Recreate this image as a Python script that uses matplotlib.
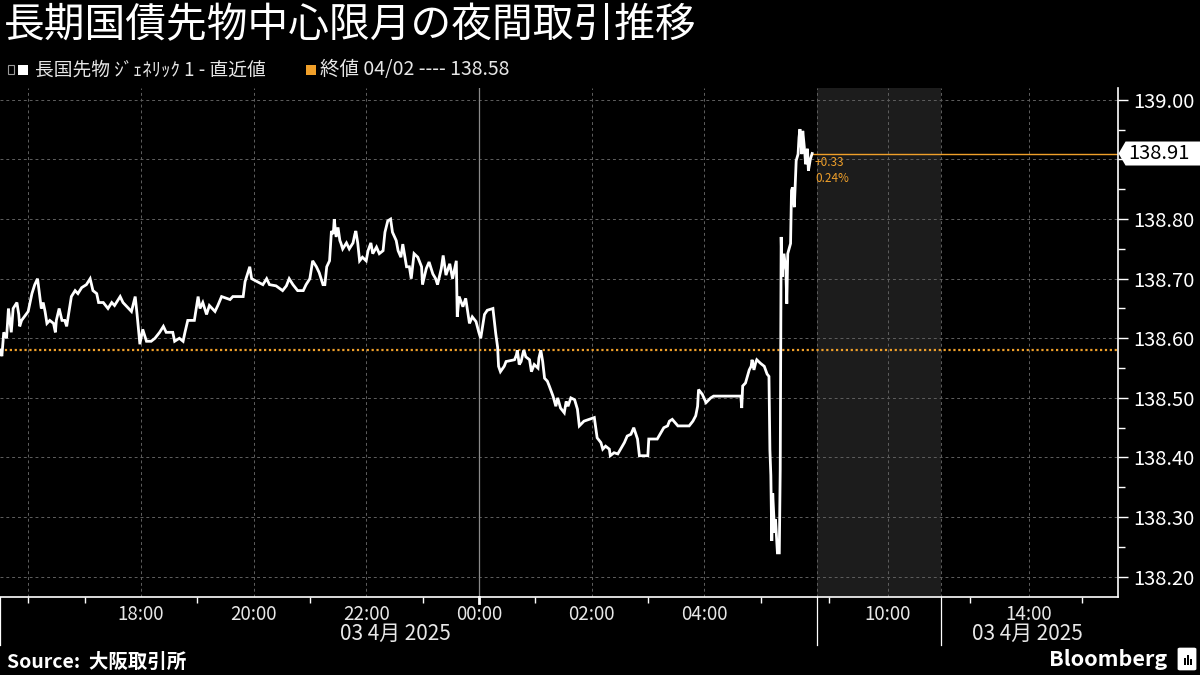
import matplotlib
matplotlib.use("Agg")
import matplotlib.pyplot as plt
import matplotlib.transforms as mtransforms
from matplotlib.patches import Rectangle, Polygon, FancyBboxPatch

plt.rcParams['font.family'] = ['Noto Sans CJK JP', 'DejaVu Sans']

# night session ticks (Osaka JGB futures, generic 1st), JST
times = [
    "15:30", "15:32", "15:34", "15:37", "15:39", "15:42", "15:44", "15:48", "15:50", "15:51",
    "15:53", "16:00", "16:02", "16:04", "16:07", "16:10", "16:12", "16:14", "16:16", "16:18",
    "16:20", "16:23", "16:27", "16:29", "16:30", "16:33", "16:36", "16:39", "16:41", "16:43",
    "16:46", "16:50", "16:53", "16:57", "17:02", "17:06", "17:09", "17:13", "17:15", "17:20",
    "17:25", "17:29", "17:32", "17:38", "17:41", "17:47", "17:50", "17:54", "17:56", "17:59",
    "18:02", "18:06", "18:11", "18:15", "18:20", "18:24", "18:27", "18:34", "18:36", "18:41",
    "18:45", "18:47", "18:50", "18:57", "19:01", "19:03", "19:06", "19:10", "19:13", "19:19",
    "19:22", "19:26", "19:35", "19:38", "19:49", "19:51", "19:54", "19:56", "19:58", "20:10",
    "20:14", "20:17", "20:24", "20:31", "20:35", "20:38", "20:42", "20:47", "20:53", "20:56",
    "21:00", "21:03", "21:07", "21:10", "21:14", "21:16", "21:18", "21:21", "21:23", "21:25",
    "21:26", "21:28", "21:30", "21:32", "21:33", "21:35", "21:39", "21:42", "21:46", "21:48",
    "21:49", "21:51", "21:53", "21:56", "22:00", "22:02", "22:05", "22:07", "22:11", "22:14",
    "22:18", "22:20", "22:23", "22:26", "22:28", "22:32", "22:34", "22:37", "22:39", "22:43",
    "22:46", "22:48", "22:51", "22:55", "22:59", "23:00", "23:04", "23:07", "23:11", "23:14",
    "23:16", "23:20", "23:22", "23:25", "23:29", "23:32", "23:36", "23:37", "23:39", "23:43",
    "23:46", "23:50", "23:53", "23:57", "00:00", "00:02", "00:06", "00:09", "00:15", "00:18",
    "00:20", "00:21", "00:23", "00:27", "00:29", "00:38", "00:40", "00:41", "00:43", "00:45",
    "00:47", "00:48", "00:50", "00:54", "00:56", "00:59", "01:03", "01:04", "01:06", "01:08",
    "01:10", "01:13", "01:15", "01:19", "01:22", "01:24", "01:27", "01:31", "01:33", "01:35",
    "01:38", "01:42", "01:45", "01:47", "01:52", "02:03", "02:05", "02:06", "02:10", "02:12",
    "02:15", "02:19", "02:20", "02:24", "02:28", "02:31", "02:35", "02:38", "02:42", "02:45",
    "02:49", "02:51", "03:00", "03:01", "03:10", "03:14", "03:17", "03:21", "03:23", "03:26",
    "03:32", "03:44", "03:48", "03:51", "03:53", "03:54", "03:58", "04:02", "04:07", "04:10",
    "04:39", "04:40", "04:41", "04:44", "04:48", "04:50", "04:51", "04:53", "04:55", "04:56",
    "05:00", "05:04", "05:07", "05:09", "05:10", "05:11", "05:12", "05:13", "05:15", "05:16",
    "05:18", "05:20", "05:21", "05:22", "05:23", "05:25", "05:27", "05:28", "05:29", "05:32",
    "05:33", "05:34", "05:36", "05:38", "05:40", "05:41", "05:42", "05:44", "05:45", "05:47",
    "05:48", "05:50", "05:51", "05:53", "05:55",
]
prices = [
    138.58, 138.57, 138.61, 138.60, 138.65, 138.61, 138.65, 138.66, 138.64, 138.62,
    138.63, 138.645, 138.66, 138.675, 138.69, 138.70, 138.675, 138.65, 138.66, 138.645,
    138.625, 138.63, 138.625, 138.61, 138.63, 138.65, 138.63, 138.63, 138.62, 138.64,
    138.67, 138.68, 138.675, 138.685, 138.69, 138.70, 138.68, 138.675, 138.66, 138.66,
    138.65, 138.66, 138.655, 138.67, 138.66, 138.65, 138.645, 138.67, 138.64, 138.59,
    138.615, 138.595, 138.595, 138.60, 138.61, 138.62, 138.61, 138.61, 138.595, 138.60,
    138.595, 138.61, 138.63, 138.63, 138.67, 138.65, 138.66, 138.64, 138.655, 138.645,
    138.655, 138.67, 138.665, 138.67, 138.67, 138.695, 138.71, 138.72, 138.70, 138.69,
    138.70, 138.69, 138.688, 138.68, 138.688, 138.70, 138.69, 138.68, 138.68, 138.69,
    138.70, 138.73, 138.72, 138.71, 138.69, 138.69, 138.72, 138.73, 138.78, 138.775,
    138.80, 138.77, 138.786, 138.764, 138.76, 138.75, 138.76, 138.75, 138.76, 138.775,
    138.78, 138.76, 138.73, 138.736, 138.73, 138.747, 138.76, 138.742, 138.753, 138.742,
    138.747, 138.778, 138.797, 138.80, 138.778, 138.764, 138.747, 138.736, 138.758, 138.72,
    138.72, 138.70, 138.742, 138.736, 138.72, 138.69, 138.717, 138.728, 138.708, 138.70,
    138.69, 138.717, 138.739, 138.706, 138.725, 138.70, 138.73, 138.636, 138.67, 138.653,
    138.667, 138.625, 138.636, 138.628, 138.61, 138.60, 138.64, 138.647, 138.65, 138.608,
    138.585, 138.553, 138.544, 138.553, 138.561, 138.564, 138.572, 138.58, 138.556, 138.561,
    138.575, 138.58, 138.569, 138.564, 138.544, 138.556, 138.55, 138.567, 138.58, 138.561,
    138.533, 138.528, 138.52, 138.503, 138.486, 138.50, 138.483, 138.475, 138.494, 138.486,
    138.50, 138.497, 138.481, 138.453, 138.461, 138.467, 138.444, 138.433, 138.425, 138.414,
    138.419, 138.414, 138.403, 138.408, 138.406, 138.414, 138.425, 138.436, 138.439, 138.45,
    138.431, 138.403, 138.403, 138.431, 138.431, 138.442, 138.45, 138.453, 138.461, 138.464,
    138.453, 138.453, 138.461, 138.47, 138.486, 138.514, 138.506, 138.492, 138.50, 138.503,
    138.503, 138.483, 138.52, 138.525, 138.547, 138.553, 138.564, 138.547, 138.56, 138.564,
    138.558, 138.553, 138.54, 138.536, 138.413, 138.37, 138.26, 138.34, 138.274, 138.296,
    138.24, 138.24, 138.38, 138.77, 138.703, 138.742, 138.714, 138.658, 138.742, 138.759,
    138.848, 138.853, 138.82, 138.898, 138.909, 138.937, 138.951, 138.909, 138.948, 138.915,
    138.892, 138.918, 138.881, 138.90, 138.91,
]

prev_close = 138.58
prev_date = "04/02"
y_ticks = [138.2, 138.3, 138.4, 138.5, 138.6, 138.7, 138.8, 138.9, 139.0]
night_labels = ["18:00", "20:00", "22:00", "00:00", "02:00", "04:00"]
day_labels = ["10:00", "14:00"]
date_label = "03 4月 2025"

ORANGE = "#f0a02a"
GRID = "#5f5f5f"


def night_pos(t):
    hh, mm = map(int, t.split(":"))
    h = hh + mm / 60
    return h - 24 if hh >= 12 else h


# day session is drawn compressed after the 06:00 close
def day_pos(h):
    return 6 + (h - 8) * 0.628


x = [night_pos(t) for t in times]
last_x, last_price = x[-1], prices[-1]
change = last_price - prev_close
pct = change / prev_close * 100

fig = plt.figure(figsize=(12, 6.75), dpi=100, facecolor="black")
ax = fig.add_axes([0, 0.1156, 0.9313, 0.7541])
ax.set_facecolor("black")
x_left, x_right = -8.5, day_pos(16.5)
ax.set_xlim(x_left, x_right)
ax.set_ylim(138.166, 139.020)

# shaded (not yet traded) day session
day_break = day_pos(11.5)
ax.axvspan(6, day_break, color="#1c1c1c", zorder=0, lw=0)

for v in y_ticks:
    ax.axhline(v, color=GRID, lw=0.7, ls=(0, (3, 3)), zorder=1)
for v in [-8, -6, -4, -2, 2, 4, 6, day_pos(10), day_break, day_pos(14)]:
    ax.axvline(v, color=GRID, lw=0.7, ls=(0, (3, 3)), zorder=1)
ax.axvline(0, color="#8a8a8a", lw=0.9, zorder=1)

ax.axhline(prev_close, color=ORANGE, lw=1.6, ls=(0, (1, 1.2)), zorder=2)
ax.hlines(last_price, last_x, x_right, color=ORANGE, lw=1.0, zorder=2)

ax.plot(x, prices, color="white", lw=2.0, zorder=4, solid_joinstyle="miter")

ax.annotate(f"{change:+.2f}\n{pct:.2f}%", xy=(last_x, last_price), xytext=(2, -2),
            textcoords="offset points", ha="left", va="top", fontsize=8.5,
            color=ORANGE, linespacing=1.3, zorder=5)

# axes and ticks
for s in ["top", "left"]:
    ax.spines[s].set_visible(False)
for s in ["bottom", "right"]:
    ax.spines[s].set_color("white")
    ax.spines[s].set_linewidth(1.2)

ax.yaxis.tick_right()
ax.set_yticks(y_ticks)
ax.set_yticklabels(["" if abs(v - last_price) < 0.03 else f"{v:.2f}" for v in y_ticks])
ax.set_yticks([v + 0.05 for v in y_ticks[:-1]], minor=True)
ax.tick_params(axis="y", which="major", length=7, width=1, colors="white",
               labelsize=14.5, pad=4)
ax.tick_params(axis="y", which="minor", length=5, width=1, colors="white")

major_x = [night_pos(t) for t in night_labels] + [day_pos(10), day_pos(14)]
ax.set_xticks(major_x)
ax.set_xticklabels(night_labels + day_labels)
ax.set_xticks([-8, -7, -5, -3, -1, 1, 3, 5, day_pos(8 + 1 / 3), day_pos(12 + 1 / 3),
               day_pos(15.5)], minor=True)
ax.tick_params(axis="x", which="major", length=0, colors="#e8e8e8", labelsize=13.5, pad=5)
ax.tick_params(axis="x", which="minor", length=4, width=1, color="white", direction="out")

xtrans = ax.get_xaxis_transform()
for v in [x_left, 6, day_break]:
    ax.plot([v, v], [0, -0.095], transform=xtrans, color="white", lw=0.9, clip_on=False)
ax.plot([0, 0], [0, -0.012], transform=xtrans, color="white", lw=2, clip_on=False)
ax.text(-1.49, -0.073, date_label, transform=xtrans, ha="center", va="center",
        fontsize=15, color="#e8e8e8")
ax.text(day_pos(13.95), -0.073, date_label, transform=xtrans, ha="center", va="center",
        fontsize=15, color="#e8e8e8")

# price tag on the right axis
fig.canvas.draw()
tag_trans = mtransforms.blended_transform_factory(ax.transAxes, ax.transData)
ax0, ay0 = tag_trans.transform((1, last_price))
tag = Polygon([(ax0 + 1, ay0), (ax0 + 8, ay0 + 12), (1200, ay0 + 12), (1200, ay0 - 12),
               (ax0 + 8, ay0 - 12)], closed=True, transform=None, fc="white", ec="none",
              zorder=5)
fig.add_artist(tag)
fig.text((ax0 + 11) / 1200, ay0 / 675, f"{last_price:.2f}", ha="left", va="center",
         fontsize=14.5, color="black", zorder=6)

# title, legend, footer
fig.text(0.003, 0.962, "長期国債先物中心限月の夜間取引推移", fontsize=29.3, color="white",
         va="center", ha="left")
ly = 1 - 70 / 675
fig.add_artist(Rectangle((8 / 1200, ly - 4 / 675), 6 / 1200, 9 / 675, transform=fig.transFigure,
                         fill=False, ec="#9a9a9a", lw=0.8))
fig.add_artist(Rectangle((18 / 1200, ly - 5 / 675), 10 / 1200, 10 / 675,
                         transform=fig.transFigure, fc="white", ec="none"))
fig.text(35 / 1200, ly, "長国先物 ｼﾞｪﾈﾘｯｸ 1 - 直近値", fontsize=13.5, color="#e6e6e6",
         va="center", ha="left")
fig.add_artist(Rectangle((306 / 1200, ly - 5 / 675), 10 / 1200, 10 / 675,
                         transform=fig.transFigure, fc=ORANGE, ec="none"))
fig.text(320 / 1200, ly, f"終値 {prev_date} ---- {prev_close:.2f}", fontsize=14,
         color="#e6e6e6", va="center", ha="left")

fig.text(0.006, 1 - 662 / 675, "Source:  大阪取引所", fontsize=14, color="white",
         weight="bold", va="center", ha="left")
fig.text(0.973, 1 - 660 / 675, "Bloomberg", fontsize=15.5, color="white",
         weight="bold", va="center", ha="right")
fig.add_artist(FancyBboxPatch((1180 / 1200, 6 / 675), 14 / 1200, 20 / 675,
                              boxstyle="round,pad=0.002", transform=fig.transFigure,
                              fc="white", ec="none"))
for bx, bh in [(1184, 7), (1187, 10), (1190, 6)]:
    fig.add_artist(Rectangle((bx / 1200, 10 / 675), 1.5 / 1200, bh / 675,
                             transform=fig.transFigure, fc="black", ec="none"))

fig.savefig("out.png", dpi=100, facecolor="black")
